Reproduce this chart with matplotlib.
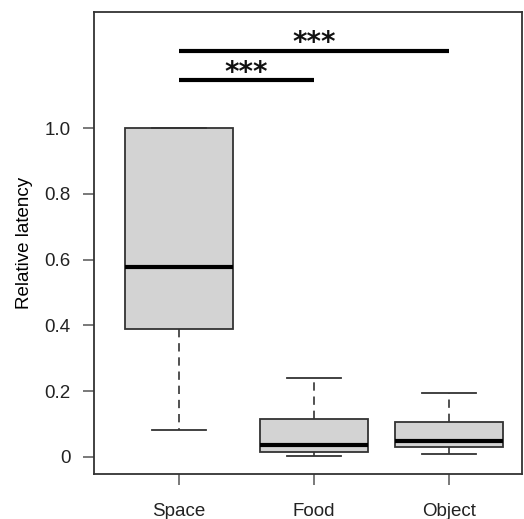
"""Boxplot of relative latency per cue type, R-style, with significance bars."""

import matplotlib.pyplot as plt

GROUPS = ['Space', 'Food', 'Object']
WHISKER_LOW = [0.082, 0.002, 0.008]
Q1 = [0.390, 0.016, 0.031]
MEDIAN = [0.577, 0.036, 0.049]
Q3 = [1.000, 0.116, 0.106]
WHISKER_HIGH = [1.000, 0.241, 0.195]

YTICKS = [0, 0.2, 0.4, 0.6, 0.8, 1.0]
YTICK_LABELS = ['0', '0.2', '0.4', '0.6', '0.8', '1.0']

# (from group, to group, bar height, label)
SIG_BARS = [(1, 2, 1.145, '***'), (1, 3, 1.235, '***')]

plt.rcParams['font.family'] = ['Liberation Sans', 'DejaVu Sans']

stats = [
    dict(label=g, whislo=lo, q1=a, med=m, q3=b, whishi=hi, fliers=[])
    for g, lo, a, m, b, hi in zip(GROUPS, WHISKER_LOW, Q1, MEDIAN, Q3, WHISKER_HIGH)
]

fig = plt.figure(figsize=(5.24, 5.19), dpi=100)
ax = fig.add_axes([0.1794, 0.0867, 0.8168, 0.8902])

edge = '#333333'
ax.bxp(stats, positions=[1, 2, 3], widths=0.8, patch_artist=True, showfliers=False,
       boxprops=dict(facecolor='#d3d3d3', edgecolor=edge, linewidth=1.3),
       medianprops=dict(color='black', linewidth=3.0, solid_capstyle='butt'),
       whiskerprops=dict(color=edge, linewidth=1.2, linestyle=(0, (5, 3.5))),
       capprops=dict(color=edge, linewidth=1.3), capwidths=0.4)

# significance bars, stars sit just above each bar
for x0, x1, y, lab in SIG_BARS:
    ax.plot([x0, x1], [y, y], color='black', linewidth=3.0, solid_capstyle='butt')
    ax.text((x0 + x1) / 2, y - 0.002, lab, ha='center', va='baseline',
            fontsize=20, family='DejaVu Sans', fontweight='bold', color='#111111')

ax.set_xlim(0.37, 3.54)
ax.set_ylim(-0.052, 1.353)
ax.set_yticks(YTICKS)
ax.set_yticklabels(YTICK_LABELS)
ax.set_xticks([1, 2, 3])
ax.set_xticklabels(GROUPS)
ax.set_ylabel('Relative latency', fontsize=13.5, labelpad=8)

ax.tick_params(axis='both', colors='#555555', labelcolor='#222222', labelsize=13.5,
               length=8, width=1.1)
ax.tick_params(axis='x', pad=13)
ax.tick_params(axis='y', pad=9)
for s in ax.spines.values():
    s.set_color('#333333')
    s.set_linewidth(1.3)

plt.savefig('out.png', dpi=100)
